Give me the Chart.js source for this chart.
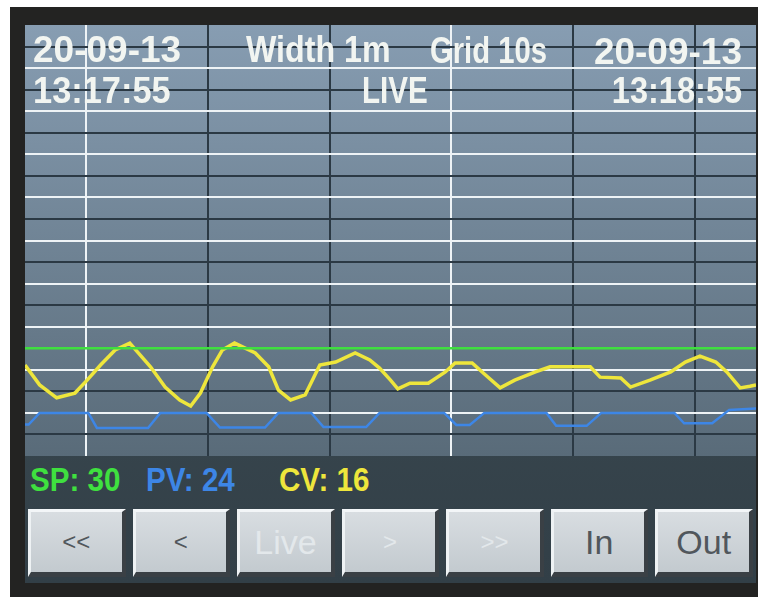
<!DOCTYPE html>
<html>
<head>
<meta charset="utf-8">
<script src="https://cdn.jsdelivr.net/npm/chart.js@4"></script>
<style>
body { margin: 0; width: 758px; height: 597px; background: #fff; position: relative; overflow: hidden; font-family: "Liberation Sans", Arial, sans-serif; }
.bezel { position: absolute; left: 10px; top: 7px; width: 748px; height: 590px; background: #232322; }
.screen { position: absolute; left: 25px; top: 25px; width: 731px; height: 558px; background: linear-gradient(#42525a, #323f47); }
#chart { position: absolute; left: 25px; top: 25px; background: linear-gradient(#879db2, #596b79); }
.lbl { position: absolute; color: #f2f5f1; font-size: 37px; line-height: 37px; font-weight: bold; white-space: nowrap; transform-origin: 0 0; }
.lbl.r { transform-origin: 100% 0; text-align: right; }
.leg { position: absolute; top: 462px; font-size: 34px; line-height: 34px; font-weight: bold; white-space: nowrap; transform: scaleX(0.87); transform-origin: 0 0; }
.buttons { position: absolute; left: 28px; top: 509px; width: 725px; height: 68px; display: flex; gap: 7px; }
.buttons div { flex: 1; box-sizing: border-box; border-style: solid; border-width: 3px 4px 5px 3px; border-color: #f3f6f8 #3a4045 #3a4045 #eef2f4; background: linear-gradient(#d8dde1, #c3cacf); color: #51575c; font-size: 34px; display: flex; align-items: center; justify-content: center; }
.buttons div.off { color: #e3e8eb; }
.buttons div.small { font-size: 24px; }
</style>
</head>
<body>
<div class="bezel"></div>
<div class="screen"></div>
<canvas id="chart" width="731" height="431"></canvas>

<div class="lbl" style="left:33px; top:31px;">20-09-13</div>
<div class="lbl" style="left:33px; top:72px; transform:scaleX(0.93);">13:17:55</div>
<div class="lbl" style="left:246px; top:31px; transform:scaleX(0.87);">Width 1m</div>
<div class="lbl" style="left:430px; top:32px; transform:scaleX(0.79);">Grid 10s</div>
<div class="lbl" style="left:362px; top:72px; transform:scaleX(0.8);">LIVE</div>
<div class="lbl r" style="right:16px; top:33px;">20-09-13</div>
<div class="lbl r" style="right:16px; top:72px; transform:scaleX(0.88);">13:18:55</div>

<div class="leg" style="left:30px; color:#3fe03f;">SP: 30</div>
<div class="leg" style="left:146px; color:#3d86e6;">PV: 24</div>
<div class="leg" style="left:279px; color:#eee63c;">CV: 16</div>

<div class="buttons">
  <div class="small">&lt;&lt;</div>
  <div class="small">&lt;</div>
  <div class="off">Live</div>
  <div class="off small">&gt;</div>
  <div class="off small">&gt;&gt;</div>
  <div>In</div>
  <div>Out</div>
</div>

<script>
// seconds after 13:17:55, one minute window
var xGridSeconds = [5, 15, 25, 35, 45, 55];
var majorGridSeconds = [5, 35];

var spTime = [0, 60];
var spValues = [25, 25];

var pvTime = [0, 0.3, 1.2, 5.2, 5.9, 10.1, 11.1, 14.9, 16.0, 19.7, 20.8, 23.5, 24.5, 28.0, 29.1, 34.4, 35.4, 36.5, 37.7, 42.8, 43.6, 46.1, 47.3, 53.3, 54.1, 56.4, 57.8, 60];
var pvValues = [7.3, 7.3, 10, 10, 6.5, 6.5, 10, 10, 6.6, 6.6, 10, 10, 6.7, 6.7, 10, 10, 7.2, 7.2, 10, 10, 7.0, 7.0, 10, 10, 7.6, 7.6, 10.7, 11.0];

var cvTime = [0, 1.2, 2.6, 4.1, 5.1, 6.2, 7.4, 8.6, 10.3, 11.5, 12.7, 13.6, 14.4, 15.4, 16.2, 17.2, 18.9, 20.0, 20.8, 21.8, 23.0, 24.2, 25.5, 27.1, 28.3, 29.1, 30.0, 30.6, 31.6, 33.1, 34.5, 35.3, 36.7, 37.8, 39.0, 40.2, 41.9, 43.1, 46.4, 47.2, 48.9, 49.7, 51.3, 53.0, 54.2, 55.4, 56.7, 57.6, 58.7, 59.5, 60];
var cvValues = [21.1, 16.5, 13.5, 14.6, 17.6, 21.1, 24.6, 26.2, 20.7, 16.0, 13.0, 11.6, 14.6, 20.7, 24.6, 26.2, 23.9, 20.7, 15.3, 13.0, 14.2, 21.1, 21.8, 23.9, 22.3, 20.4, 17.6, 15.6, 16.9, 16.9, 19.5, 21.6, 21.6, 18.8, 15.8, 17.6, 19.5, 20.7, 20.7, 18.3, 18.1, 16.0, 17.6, 19.5, 21.8, 23.2, 21.8, 19.5, 15.8, 16.2, 16.5];

var toPoints = (times, values) => times.map((t, i) => ({ x: t, y: values[i] }));

var chartTrend = document.getElementById("chart");

new Chart(chartTrend, {
  data: {
    datasets: [
      { data: toPoints(spTime, spValues), label: "SP", borderColor: "#3fe03f", borderWidth: 2.5 },
      { data: toPoints(pvTime, pvValues), label: "PV", borderColor: "#3d86e6", borderWidth: 2.5 },
      { data: toPoints(cvTime, cvValues), label: "CV", borderColor: "#eee63c", borderWidth: 3.5 }
    ]
  },
  options: {
    responsive: false,
    animation: false,
    layout: { padding: 0 },
    elements: { point: { radius: 0 }, line: { tension: 0 } },
    plugins: { legend: { display: false }, tooltip: { enabled: false } },
    scales: {
      x: {
        type: "linear",
        min: 0,
        max: 60,
        afterBuildTicks: function(scale) {
          scale.ticks = xGridSeconds.map(v => ({ value: v }));
        },
        ticks: { display: false },
        border: { display: false },
        grid: {
          drawTicks: false,
          lineWidth: 2,
          color: function(context) {
            return majorGridSeconds.includes(context.tick.value) ? "#eef3f6" : "#2b3944";
          }
        }
      },
      y: {
        min: 0,
        max: 100,
        ticks: { display: false, stepSize: 5 },
        border: { display: false },
        grid: {
          drawTicks: false,
          lineWidth: 2,
          color: function(context) {
            var v = context.tick.value;
            if (v === 0 || v === 100) return "rgba(0,0,0,0)";
            return v % 10 === 0 ? "#eef3f6" : "#2b3944";
          }
        }
      }
    }
  },
  type: "line"
});
</script>
</body>
</html>
